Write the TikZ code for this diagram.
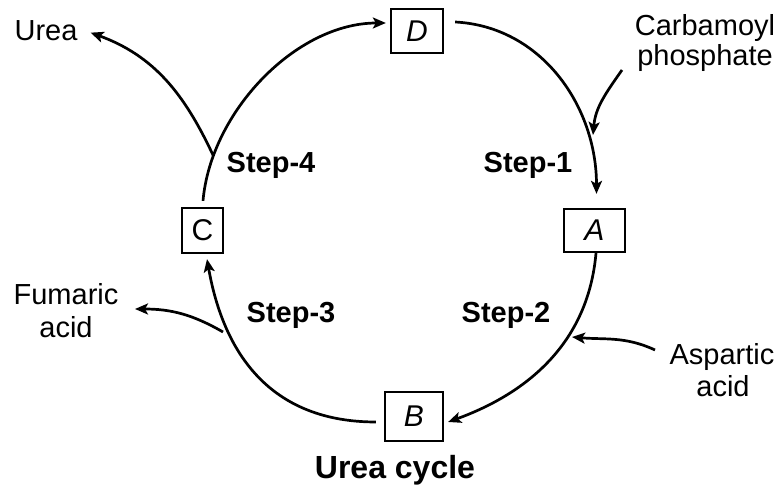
\documentclass[tikz,border=0pt]{standalone}
\usepackage{fontspec}
\setmainfont{Liberation Sans}
\usetikzlibrary{arrows.meta}
\begin{document}
\begin{tikzpicture}[x=1pt,y=1pt,
  lbl/.style={inner sep=0pt, anchor=base, font=\fontsize{29}{33}\selectfont},
  steplbl/.style={inner sep=0pt, anchor=base, font=\fontsize{29}{33}\selectfont\bfseries},
  titlelbl/.style={inner sep=0pt, anchor=base, font=\fontsize{32}{36}\selectfont\bfseries},
  box/.style={draw, line width=2.3pt, inner sep=0pt, font=\fontsize{30}{34}\selectfont},
  flow/.style={line width=2.7pt, -{Stealth[length=13pt,width=11pt,inset=3pt]}},
]
\useasboundingbox (0,0) rectangle (780,494);
% boxes
\node[box, minimum width=52pt, minimum height=44pt] (D) at (417,463) {\itshape D};
\node[box, minimum width=41pt, minimum height=45pt] (C) at (202.5,263.5) {C};
\node[box, minimum width=61pt, minimum height=43pt] (A) at (594.5,263.5) {\itshape A};
\node[box, minimum width=58pt, minimum height=49pt] (B) at (414,77.5) {\itshape B};
% labels
\node[lbl] (urea) at (46,453) {Urea};
\node[lbl] (carb) at (705,458) {Carbamoyl};
\node[lbl] (phos) at (705,428) {phosphate};
\node[lbl] (fum) at (66,189) {Fumaric};
\node[lbl] (fumacid) at (66,156) {acid};
\node[lbl] (asp) at (722,129) {Aspartic};
\node[lbl] (aspacid) at (723,97) {acid};
\node[steplbl] (s4) at (271,321) {Step-4};
\node[steplbl] (s1) at (528,321) {Step-1};
\node[steplbl] (s3) at (291,171) {Step-3};
\node[steplbl] (s2) at (506,171) {Step-2};
\node[titlelbl] (title) at (395,15) {Urea cycle};
% cycle
\draw[flow] ([shift={(11,9)}]D.east) to[out=-3,in=90] ([shift={(2,14)}]A.north);
\draw[flow] ([xshift=1.5pt]A.south) to[out=-95,in=20] ([shift={(4,-5.5)}]B.east);
\draw[flow] ([shift={(-8,-5.5)}]B.west) to[out=180,in=-80,looseness=1.1] ([shift={(4.5,-5)}]C.south);
\draw[flow] ([shift={(0.5,6)}]C.north) to[out=85,in=180,looseness=0.9] coordinate[pos=0.17] (j4) ([shift={(-4,8)}]D.west);
% branches
\coordinate (cpS) at (622,424);
\coordinate (j1) at (593,359);
\draw[flow] (cpS) to[out=-125,in=85] (j1);
\draw[flow] (j4) to[out=115,in=-20] ([shift={(13,-1.5)}]urea.east);
\coordinate (fS) at (223,162);
\coordinate (fT) at (135,185);
\draw[flow] (fS) to[out=150,in=0] (fT);
\coordinate (aS) at (655,144);
\coordinate (aT) at (572,157);
\draw[flow] (aS) to[out=155,in=-5] (aT);
\end{tikzpicture}
\end{document}
